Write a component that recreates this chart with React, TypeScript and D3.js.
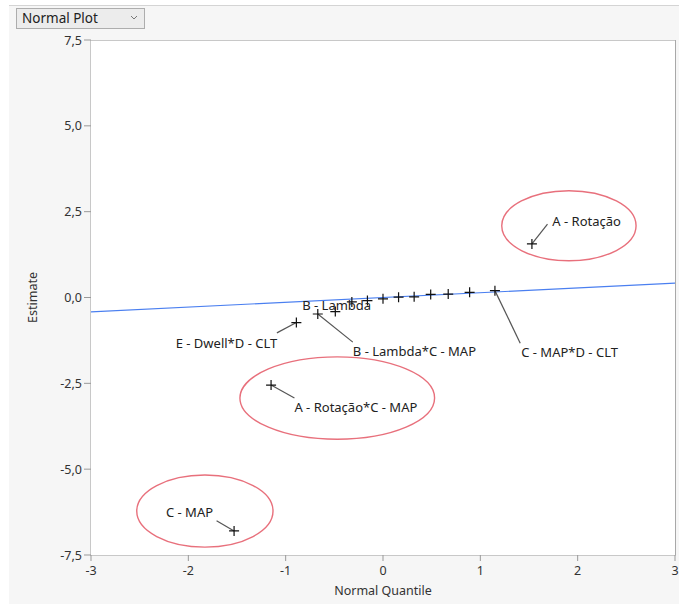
import React from 'react';
import * as d3 from 'd3';

// Effects, sorted by estimate (quantile read from the x axis)
const terms: string[] = [
  'C - MAP', 'A - Rotação*C - MAP', 'E - Dwell*D - CLT', 'B - Lambda*C - MAP', 'B - Lambda',
  't6', 't7', 't8', 't9', 't10', 't11', 't12', 't13', 'C - MAP*D - CLT', 'A - Rotação',
];
const quantiles: number[] = [-1.53, -1.15, -0.89, -0.67, -0.49, -0.32, -0.16, 0, 0.16, 0.32, 0.49, 0.67, 0.89, 1.15, 1.53];
const estimates: number[] = [-6.8, -2.55, -0.73, -0.48, -0.41, -0.13, -0.09, -0.04, 0.01, 0.02, 0.09, 0.1, 0.15, 0.2, 1.56];

const xTicks: number[] = [-3, -2, -1, 0, 1, 2, 3];
const yTicks: number[] = [7.5, 5, 2.5, 0, -2.5, -5, -7.5];

// reference line
const lineSlope = 0.14;
const lineIntercept = 0;

// labels: term, label anchor (data units), whether a leader line is drawn
const labels = [
  { term: 'A - Rotação', lx: 1.74, ly: 2.2, leader: true },
  { term: 'C - MAP*D - CLT', lx: 1.42, ly: -1.6, leader: true },
  { term: 'B - Lambda', lx: -0.83, ly: -0.22, leader: false },
  { term: 'B - Lambda*C - MAP', lx: -0.31, ly: -1.58, leader: true },
  { term: 'E - Dwell*D - CLT', lx: -2.13, ly: -1.33, leader: true },
  { term: 'A - Rotação*C - MAP', lx: -0.91, ly: -3.2, leader: true },
  { term: 'C - MAP', lx: -2.23, ly: -6.26, leader: true },
];
// leader line start points (data units)
const leaderFrom: Record<string, [number, number]> = {
  'A - Rotação': [1.69, 2.14],
  'C - MAP*D - CLT': [1.41, -1.33],
  'B - Lambda*C - MAP': [-0.31, -1.3],
  'E - Dwell*D - CLT': [-1.09, -1.03],
  'A - Rotação*C - MAP': [-0.91, -2.93],
  'C - MAP': [-1.71, -6.5],
};

// red circled groups: cx, cy, rx, ry in data units
const ellipses = [
  { cx: 1.91, cy: 2.09, rx: 0.69, ry: 1.02 },
  { cx: -0.47, cy: -2.93, rx: 1.0, ry: 1.2 },
  { cx: -1.83, cy: -6.22, rx: 0.7, ry: 1.05 },
];

const W = 679;
const H = 604;
const m = { left: 91, top: 40, right: 675, bottom: 555 };
const font = "'Noto Sans', 'Open Sans', sans-serif";

const App: React.FC = () => {
  const x = d3.scaleLinear().domain([-3, 3]).range([m.left, m.right]);
  const y = d3.scaleLinear().domain([-7.5, 7.5]).range([m.bottom, m.top]);
  const fmt = (v: number) => v.toFixed(1).replace('.', ',');
  const pts = terms.map((t, i) => ({ t, q: quantiles[i], e: estimates[i] }));
  const line = d3.line<number>().x((d) => x(d)).y((d) => y(lineIntercept + lineSlope * d));

  return (
    <svg width={W} height={H} style={{ position: 'absolute', left: 0, top: 0, fontFamily: font }}>
      <defs>
        <clipPath id="plotclip">
          <rect x={m.left} y={m.top} width={m.right - m.left} height={m.bottom - m.top} />
        </clipPath>
      </defs>
      <rect x={0} y={0} width={W} height={H} fill="#fff" />
      <rect x={9} y={5} width={W - 9} height={H - 5} fill="#f6f6f6" />
      <line x1={9} x2={W} y1={5.5} y2={5.5} stroke="#d4d4d4" />

      {/* dropdown */}
      <rect x={16.5} y={8.5} width={128} height={20} fill="#ececec" stroke="#adadad" />
      <text x={22} y={23} fontSize={13.5} fill="#222">Normal Plot</text>
      <path d="M131,16 l3,3 l3,-3" fill="none" stroke="#777" strokeWidth={1} />

      {/* plot frame */}
      <rect x={m.left} y={m.top} width={m.right - m.left} height={m.bottom - m.top} fill="#fff" />
      <line x1={m.left} x2={m.right} y1={m.top + 0.5} y2={m.top + 0.5} stroke="#c8c8c8" />
      <line x1={m.right + 0.5} x2={m.right + 0.5} y1={m.top} y2={m.bottom} stroke="#a8a8a8" />
      <line x1={m.left - 0.5} x2={m.left - 0.5} y1={m.top} y2={m.bottom + 1} stroke="#c8c8c8" />
      <line x1={m.left} x2={m.right + 1} y1={m.bottom + 0.5} y2={m.bottom + 0.5} stroke="#c8c8c8" />

      {/* axes */}
      {yTicks.map((v) => (
        <g key={'y' + v}>
          <line x1={m.left - 7} x2={m.left} y1={y(v)} y2={y(v)} stroke="#999" />
          <text x={m.left - 9} y={y(v) + 4.5} fontSize={12.5} textAnchor="end" fill="#333">{fmt(v)}</text>
        </g>
      ))}
      {xTicks.map((v) => (
        <g key={'x' + v}>
          <line x1={x(v)} x2={x(v)} y1={m.bottom} y2={m.bottom + 6} stroke="#999" />
          <text x={x(v)} y={m.bottom + 20} fontSize={12.5} textAnchor="middle" fill="#333">{v}</text>
        </g>
      ))}
      <text x={383} y={595} fontSize={12.5} textAnchor="middle" fill="#333">Normal Quantile</text>
      <text transform={`translate(37,${y(0)}) rotate(-90)`} fontSize={12.5} textAnchor="middle" fill="#333">Estimate</text>

      <g clipPath="url(#plotclip)">
        <path d={line([-3.2, 3.2]) || ''} fill="none" stroke="#4a7ff0" strokeWidth={1.2} />
        {ellipses.map((el, i) => (
          <ellipse key={i} cx={x(el.cx)} cy={y(el.cy)} rx={x(el.rx) - x(0)} ry={y(0) - y(el.ry)}
            fill="none" stroke="#e8707c" strokeWidth={1.4} />
        ))}
        {labels.filter((l) => l.leader).map((l) => {
          const p = pts.find((d) => d.t === l.term)!;
          const f = leaderFrom[l.term];
          return <line key={'ld' + l.term} x1={x(f[0])} y1={y(f[1])} x2={x(p.q)} y2={y(p.e)} stroke="#555" strokeWidth={1.2} />;
        })}
        {pts.map((d) => (
          <path key={d.t} d={`M${x(d.q) - 5},${y(d.e)}h10M${x(d.q)},${y(d.e) - 5}v10`} stroke="#111" strokeWidth={1.2} />
        ))}
        {labels.map((l) => (
          <text key={'lb' + l.term} x={x(l.lx)} y={y(l.ly) + 4.5} fontSize={13} fill="#222">{l.term}</text>
        ))}
      </g>
    </svg>
  );
};

export default App;
